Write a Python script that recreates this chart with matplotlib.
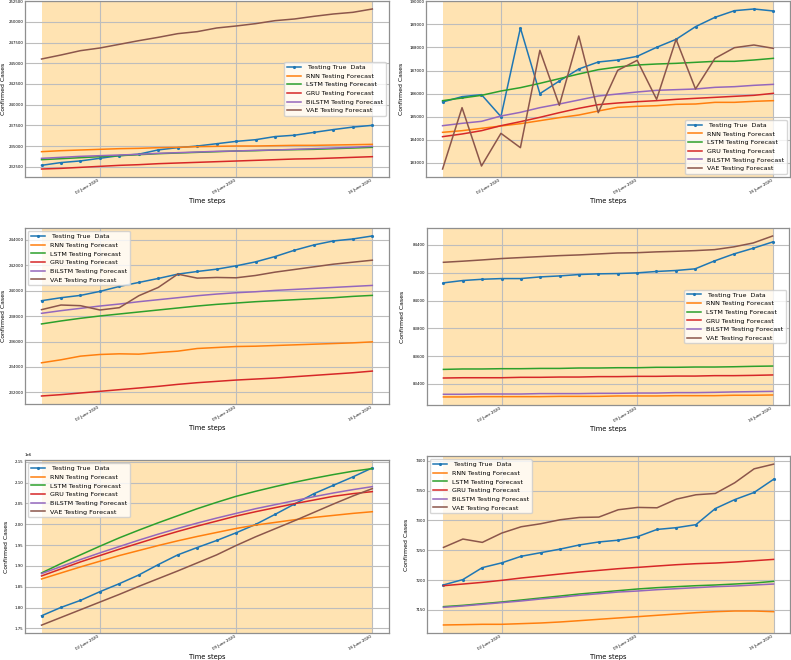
import pandas as pd
import matplotlib
matplotlib.use("Agg")
import matplotlib.pyplot as plt
import matplotlib.dates as mdates
from matplotlib.ticker import MultipleLocator

# 18 daily test points, 30 May - 16 June 2020
dates = pd.date_range("2020-05-30", periods=18, freq="D")
date_ticks = pd.to_datetime(["2020-06-02", "2020-06-09", "2020-06-16"])

labels = [" Testing True  Data", "RNN Testing Forecast", "LSTM Testing Forecast",
          "GRU Testing Forecast", "BiLSTM Testing Forecast", "VAE Testing Forecast"]
colors = ["tab:blue", "tab:orange", "tab:green", "tab:red", "tab:purple", "tab:brown"]

# panel 1 (top left)
p1_true = [232664, 232997, 233197, 233515, 233836, 234013, 234531, 234801, 234998,
           235278, 235561, 235763, 236142, 236305, 236651, 236989, 237290, 237500]
p1_rnn = [234314, 234435, 234516, 234597, 234677, 234718, 234798, 234839, 234919,
          234960, 235000, 235000, 235040, 235080, 235080, 235121, 235161, 235201]
p1_lstm = [233347, 233468, 233589, 233710, 233831, 233952, 234072, 234153, 234234,
           234314, 234395, 234435, 234516, 234556, 234597, 234677, 234758, 234839]
p1_gru = [232218, 232298, 232419, 232540, 232661, 232742, 232863, 232944, 233024,
          233105, 233185, 233266, 233347, 233427, 233468, 233548, 233629, 233710]
p1_bilstm = [233508, 233629, 233750, 233831, 233911, 233992, 234113, 234193, 234274,
             234355, 234395, 234476, 234516, 234597, 234677, 234758, 234839, 234960]
p1_vae = [245523, 246007, 246531, 246854, 247297, 247741, 248144, 248588, 248830,
          249273, 249515, 249797, 250160, 250362, 250684, 250967, 251168, 251571]

# panel 2 (top right)
p2_true = [185634, 185865, 185952, 185000, 188846, 185995, 186545, 187066, 187370,
           187457, 187616, 188007, 188354, 188904, 189309, 189598, 189671, 189584]
p2_rnn = [184317, 184389, 184491, 184592, 184693, 184823, 184954, 185069, 185243,
          185402, 185446, 185474, 185532, 185547, 185619, 185619, 185663, 185692]
p2_lstm = [185692, 185807, 185923, 186111, 186256, 186444, 186646, 186849, 187037,
           187153, 187240, 187283, 187312, 187356, 187399, 187399, 187457, 187529]
p2_gru = [184129, 184245, 184389, 184606, 184780, 184968, 185171, 185359, 185518,
          185590, 185648, 185692, 185749, 185793, 185836, 185880, 185923, 186010]
p2_bilstm = [184606, 184708, 184794, 185026, 185185, 185388, 185547, 185720, 185894,
             185981, 186068, 186140, 186169, 186198, 186270, 186299, 186357, 186400]
p2_vae = [182725, 185388, 182855, 184273, 183651, 187877, 185489, 188499, 185171,
          187008, 187442, 185749, 188354, 186198, 187529, 187992, 188108, 187963]

# panel 3 (middle left)
p3_true = [239215, 239450, 239633, 239947, 240339, 240652, 240966, 241306, 241515,
           241698, 241959, 242273, 242691, 243188, 243606, 243920, 244077, 244312]
p3_rnn = [234326, 234562, 234849, 234980, 235032, 235006, 235137, 235241, 235451,
          235529, 235607, 235633, 235686, 235738, 235790, 235843, 235895, 235973]
p3_lstm = [237385, 237620, 237829, 238012, 238169, 238326, 238483, 238640, 238796,
           238927, 239032, 239136, 239215, 239293, 239372, 239450, 239555, 239633]
p3_gru = [231712, 231817, 231948, 232078, 232209, 232340, 232471, 232627, 232758,
          232863, 232967, 233046, 233124, 233229, 233333, 233438, 233542, 233673]
p3_bilstm = [238221, 238430, 238613, 238796, 238953, 239136, 239293, 239450, 239607,
             239737, 239842, 239920, 240025, 240103, 240182, 240260, 240339, 240417]
p3_vae = [238509, 238875, 238823, 238483, 238666, 239607, 240260, 241306, 240992,
          241044, 241018, 241201, 241463, 241672, 241881, 242090, 242247, 242404]

# panel 4 (middle right)
p4_true = [84127, 84144, 84153, 84158, 84158, 84170, 84177, 84187, 84192,
           84194, 84199, 84209, 84216, 84228, 84285, 84335, 84376, 84421]
p4_rnn = [83307, 83307, 83309, 83309, 83309, 83309, 83311, 83311, 83311,
          83314, 83314, 83314, 83316, 83316, 83316, 83319, 83319, 83321]
p4_lstm = [83505, 83508, 83508, 83510, 83510, 83512, 83512, 83515, 83515,
           83517, 83517, 83520, 83520, 83522, 83522, 83524, 83527, 83529]
p4_gru = [83443, 83445, 83445, 83445, 83448, 83448, 83450, 83450, 83453,
          83453, 83455, 83455, 83457, 83457, 83460, 83460, 83462, 83465]
p4_bilstm = [83326, 83326, 83328, 83328, 83328, 83331, 83331, 83331, 83333,
             83333, 83335, 83335, 83338, 83338, 83340, 83343, 83345, 83347]
p4_vae = [84275, 84283, 84292, 84302, 84309, 84316, 84323, 84328, 84335,
          84342, 84344, 84350, 84354, 84359, 84366, 84386, 84414, 84464]

# panel 5 (bottom left)
p5_true = [1780514, 1800589, 1817452, 1838330, 1857602, 1878480, 1903373, 1926660, 1944326,
           1961189, 1979658, 1999733, 2023823, 2048716, 2073609, 2093684, 2113759, 2135440]
p5_rnn = [1868844, 1883298, 1897752, 1911403, 1925054, 1937099, 1949144, 1960386, 1970825,
          1980461, 1990097, 1998127, 2004551, 2010975, 2016596, 2021414, 2026232, 2030247]
p5_lstm = [1883298, 1905782, 1926660, 1947538, 1967613, 1986082, 2003748, 2020611, 2037474,
           2052731, 2067185, 2079230, 2090472, 2100911, 2110547, 2119380, 2127410, 2133834]
p5_gru = [1876071, 1892934, 1909797, 1925054, 1940311, 1954765, 1969219, 1982870, 1995718,
          2007763, 2019808, 2030247, 2039883, 2049519, 2058352, 2067185, 2073609, 2078427]
p5_bilstm = [1881692, 1898555, 1915418, 1931478, 1946735, 1961992, 1976446, 1990097, 2002945,
             2014990, 2026232, 2037474, 2047110, 2056746, 2066382, 2075215, 2083245, 2090472]
p5_vae = [1758030, 1776499, 1794968, 1813437, 1831906, 1851178, 1869647, 1888116, 1907388,
          1926660, 1949144, 1970022, 1989294, 2008566, 2028641, 2048716, 2067988, 2085654]

# panel 6 (bottom right)
p6_true = [7192, 7201, 7221, 7229, 7240, 7246, 7252, 7259, 7264,
           7267, 7273, 7285, 7288, 7293, 7320, 7335, 7347, 7369]
p6_rnn = [7124.9, 7125.4, 7126.0, 7126.0, 7127.1, 7128.2, 7129.9, 7132.1, 7134.4,
          7136.6, 7138.8, 7141.1, 7143.3, 7145.5, 7147.2, 7148.3, 7148.3, 7147.2]
p6_lstm = [7155.6, 7157.8, 7160.6, 7163.4, 7166.7, 7170.1, 7173.4, 7176.8, 7179.6,
           7182.4, 7185.2, 7187.4, 7189.1, 7190.7, 7191.9, 7193.5, 7195.2, 7198.0]
p6_gru = [7190.7, 7193.5, 7196.3, 7199.7, 7203.6, 7206.9, 7210.3, 7213.6, 7216.4,
          7219.2, 7221.4, 7223.7, 7225.9, 7227.6, 7228.7, 7230.4, 7232.6, 7234.8]
p6_bilstm = [7154.5, 7156.7, 7159.5, 7162.3, 7165.1, 7168.4, 7171.2, 7174.6, 7177.3,
             7180.1, 7181.8, 7184.0, 7185.7, 7187.4, 7189.1, 7190.2, 7191.9, 7193.5]
p6_vae = [7254.9, 7268.9, 7263.3, 7278.9, 7289.5, 7294.5, 7301.2, 7305.1, 7305.7,
          7318.0, 7321.9, 7321.3, 7335.8, 7343.1, 7345.3, 7363.2, 7386.6, 7394.4]

panels = [
    ([p1_true, p1_rnn, p1_lstm, p1_gru, p1_bilstm, p1_vae], 2500, "center right"),
    ([p2_true, p2_rnn, p2_lstm, p2_gru, p2_bilstm, p2_vae], 1000, "lower right"),
    ([p3_true, p3_rnn, p3_lstm, p3_gru, p3_bilstm, p3_vae], 2000, "upper left"),
    ([p4_true, p4_rnn, p4_lstm, p4_gru, p4_bilstm, p4_vae], 200, "center right"),
    ([p5_true, p5_rnn, p5_lstm, p5_gru, p5_bilstm, p5_vae], 50000, "upper left"),
    ([p6_true, p6_rnn, p6_lstm, p6_gru, p6_bilstm, p6_vae], 50, "upper left"),
]

# axes boxes in figure fraction (left, bottom, width, height)
boxes = [
    [0.0316, 0.7318, 0.4600, 0.2667],
    [0.5386, 0.7318, 0.4600, 0.2667],
    [0.0316, 0.3879, 0.4600, 0.2667],
    [0.5398, 0.3864, 0.4577, 0.2682],
    [0.0316, 0.0409, 0.4600, 0.2621],
    [0.5398, 0.0409, 0.4590, 0.2680],
]
ylabel_x = [-0.053, -0.060, -0.053, -0.060, -0.044, -0.050]

fig = plt.figure(figsize=(7.91, 6.6), dpi=100)

for (series, step, loc), box, lx in zip(panels, boxes, ylabel_x):
    ax = fig.add_axes(box)
    ax.axvspan(dates[0], dates[-1], color="orange", alpha=0.3, lw=0)
    for i, (vals, lab, col) in enumerate(zip(series, labels, colors)):
        if i == 0:
            ax.plot(dates, vals, color=col, marker=".", markersize=2.5, lw=1.1, label=lab)
        else:
            ax.plot(dates, vals, color=col, lw=1.1, label=lab)
    ax.yaxis.set_major_locator(MultipleLocator(step))
    ax.set_xticks(date_ticks)
    ax.xaxis.set_major_formatter(mdates.DateFormatter("%d %B %Y"))
    plt.setp(ax.get_xticklabels(), rotation=30, ha="right")
    ax.tick_params(labelsize=2.8, length=0, pad=1.0)
    ax.yaxis.get_offset_text().set_fontsize(2.8)
    ax.grid(True, color="#bdbdbd", lw=0.8)
    for sp in ax.spines.values():
        sp.set_color("#8f8f8f")
        sp.set_linewidth(0.9)
    ax.set_xlabel("Time steps", fontsize=4.8, labelpad=2)
    ax.set_ylabel("Confirmed Cases", fontsize=4.4)
    ax.yaxis.set_label_coords(lx, 0.5)
    ax.legend(loc=loc, fontsize=4.6, handlelength=2.2)

fig.savefig("out.png", dpi=100)
